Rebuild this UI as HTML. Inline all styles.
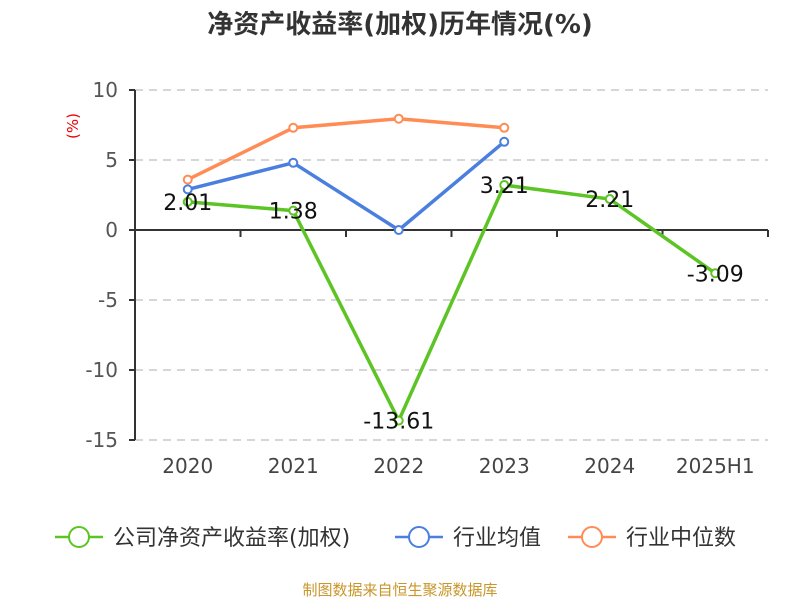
<!DOCTYPE html>
<html><head><meta charset="utf-8"><style>
body{margin:0;background:#fff;font-family:"DejaVu Sans","Noto Sans CJK SC",sans-serif}
svg text{font-family:"DejaVu Sans","Noto Sans CJK SC",sans-serif}
</style></head><body>
<svg id="c" width="800" height="600">
<text x="400" y="33" text-anchor="middle" font-size="26" font-weight="bold" fill="#333">净资产收益率(加权)历年情况(%)</text>
<text x="78" y="126" transform="rotate(-90 78 126)" text-anchor="middle" font-size="15" fill="#e00">(%)</text>
<g id="grid"></g><g id="series"></g>
<g>
<g><line x1="55" y1="537" x2="103" y2="537" stroke="#5cc424" stroke-width="2.5"/><circle cx="79" cy="537" r="10" fill="#fff" stroke="#5cc424" stroke-width="2"/><text x="113" y="545" font-size="22" fill="#333">公司净资产收益率(加权)</text></g>
<g><line x1="395" y1="537" x2="443" y2="537" stroke="#4a7fe0" stroke-width="2.5"/><circle cx="419" cy="537" r="10" fill="#fff" stroke="#4a7fe0" stroke-width="2"/><text x="453" y="545" font-size="22" fill="#333">行业均值</text></g>
<g><line x1="568" y1="537" x2="616" y2="537" stroke="#ff8c55" stroke-width="2.5"/><circle cx="592" cy="537" r="10" fill="#fff" stroke="#ff8c55" stroke-width="2"/><text x="626" y="545" font-size="22" fill="#333">行业中位数</text></g>
</g>
<text x="400" y="595" text-anchor="middle" font-size="15" fill="#c8962a">制图数据来自恒生聚源数据库</text>
</svg>
<script>
const categories=["2020","2021","2022","2023","2024","2025H1"];
const companyValues=[2.01,1.38,-13.61,3.21,2.21,-3.09];
const industryAvg=[2.9,4.8,0.0,6.3];
const industryMedian=[3.6,7.3,7.95,7.3];
const yTicks=[10,5,0,-5,-10,-15];
const NS="http://www.w3.org/2000/svg";
const X0=135,X1=768,yTop=90,yBot=440,vMax=10,vMin=-15;
const band=(X1-X0)/categories.length;
const xs=i=>X0+band*(i+0.5);
const ys=v=>yTop+(vMax-v)/(vMax-vMin)*(yBot-yTop);
function mk(t,a,p){const e=document.createElementNS(NS,t);for(const k in a)e.setAttribute(k,a[k]);p.appendChild(e);return e;}
const g=document.getElementById('grid');
yTicks.forEach(v=>{
 if(v!==0){const l=mk('line',{x1:X0,x2:X1,y1:ys(v),y2:ys(v),stroke:'#c8c8c8','stroke-width':1.5,'stroke-dasharray':'8,6'},g);
 
 }
 mk('line',{x1:X0-6,x2:X0,y1:ys(v),y2:ys(v),stroke:'#333','stroke-width':2},g);
 const t=mk('text',{x:118,y:ys(v)+7,'text-anchor':'end','font-size':20,fill:'#555'},g);t.textContent=v;
 
 
});
const ya=mk('line',{x1:X0,x2:X0,y1:yTop,y2:yBot,stroke:'#333','stroke-width':2},g);


const xa=mk('line',{x1:X0,x2:X1,y1:ys(0),y2:ys(0),stroke:'#333','stroke-width':2},g);


for(let i=0;i<=categories.length;i++)mk('line',{x1:X0+band*i,x2:X0+band*i,y1:ys(0),y2:ys(0)+7,stroke:'#333','stroke-width':2},g);
categories.forEach((c,i)=>{const t=mk('text',{x:xs(i),y:473,'text-anchor':'middle','font-size':20,fill:'#444'},g);t.textContent=c;
 
 });
const s=document.getElementById('series');
function draw(vals,color,name,labels){
 const pl=mk('polyline',{points:vals.map((v,i)=>xs(i)+','+ys(v)).join(' '),fill:'none',stroke:color,'stroke-width':3.5,'stroke-linejoin':'round'},s);
 
 
 vals.forEach((v,i)=>{const c=mk('circle',{cx:xs(i),cy:ys(v),r:4,fill:'#fff',stroke:color,'stroke-width':2},s);
  
  });
 if(labels)vals.forEach((v,i)=>{const t=mk('text',{x:xs(i),y:ys(v)+8,'text-anchor':'middle','font-size':22,fill:'#111'},s);t.textContent=v.toFixed(2);
  
  });
}
draw(industryMedian,'#ff8c55','industry-median');
draw(industryAvg,'#4a7fe0','industry-avg');
draw(companyValues,'#5cc424','company-roe',true);
</script>
</body></html>
